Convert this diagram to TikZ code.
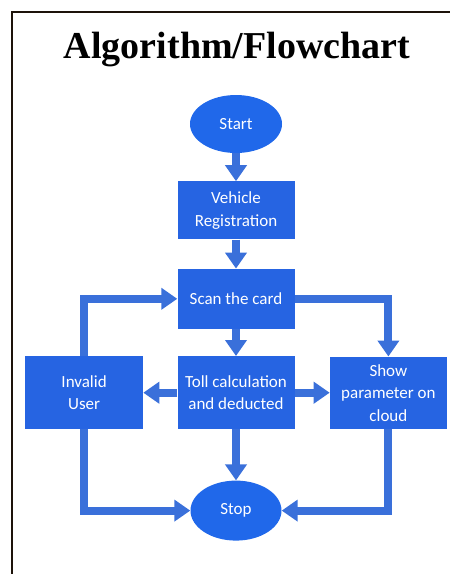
\documentclass[tikz,border=0pt]{standalone}
\usepackage{fontspec}
\setmainfont{Liberation Serif}
\newfontfamily\flowfont{Carlito}
\usepackage{xcolor}
\usetikzlibrary{shapes.geometric, arrows.meta, positioning}

\definecolor{boxblue}{RGB}{38,100,226}
\definecolor{ovalblue}{RGB}{32,104,234}
\definecolor{linkblue}{RGB}{58,112,218}

\begin{document}
\begin{tikzpicture}[x=1pt, y=1pt,
    box/.style={rectangle, fill=boxblue, minimum width=117pt, minimum height=58pt, align=center, text=white, inner sep=2pt, font=\flowfont\fontsize{17}{22.5}\selectfont},
    oval/.style={ellipse, fill=ovalblue, minimum width=92pt, minimum height=58pt, text=white, font=\flowfont\fontsize{17}{22.5}\selectfont},
    arrow/.style={-{Triangle[width=21pt, length=16pt]}, line width=8pt, draw=linkblue},
    node distance=28pt and 34pt
]
\useasboundingbox (0,0) rectangle (450,-574);
\draw[line width=1.6pt, draw=black!85!brown] (450,-12) -| (12,-574);

\node[font=\bfseries\fontsize{38}{40}\selectfont] (title) at (237,-50) {Algorithm/Flowchart};

\node[oval] (start) at (236,-124) {Start};
\node[box, below=28pt of start] (veh) {Vehicle\\Registration};
\node[box, below=29pt of veh, minimum height=60pt] (scan) {Scan the card};
\node[box, below=27pt of scan, minimum height=73pt] (toll) {Toll calculation\\and deducted};
\node[box, left=34pt of toll, minimum width=118pt, minimum height=73pt] (inv) {Invalid\\User};
\node[box, right=35pt of toll, minimum height=72pt] (show) {Show\\parameter on\\cloud};
\node[oval, below=51pt of toll, minimum width=91pt, minimum height=60pt] (stop) {Stop};

\draw[arrow] (start) -- (veh);
\draw[arrow] (veh) -- (scan);
\draw[arrow] (scan) -- (toll);
\draw[arrow] (toll) -- (stop);
\draw[arrow] (toll) -- (inv);
\draw[arrow] (toll) -- (show);
\draw[arrow] (scan.east) -| (show.north);
\draw[arrow] (inv.north) |- (scan.west);
\draw[arrow] (inv.south) |- (stop.west);
\draw[arrow] (show.south) |- (stop.east);
\end{tikzpicture}
\end{document}
